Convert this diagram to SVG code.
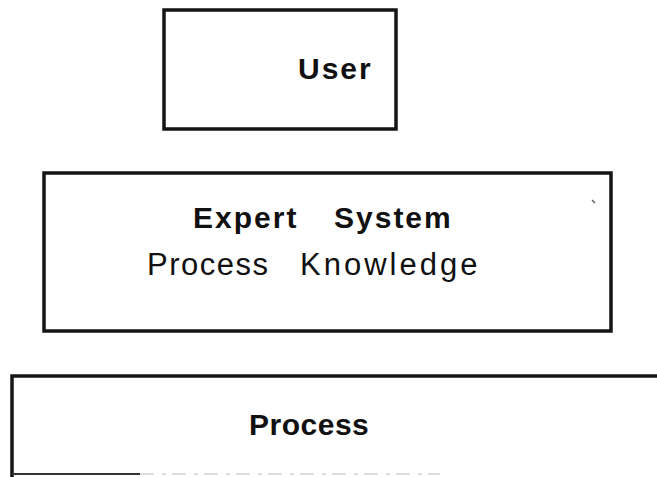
<svg xmlns="http://www.w3.org/2000/svg" width="657" height="477" viewBox="0 0 657 477">
<style>
.box{fill:#fff;stroke:#151515;stroke-width:3.5}
.t{font-family:"Liberation Sans",Arial,sans-serif;fill:#111}
.b{font-weight:bold;font-size:30px;letter-spacing:2px}
.r{font-size:31px;letter-spacing:1.5px}
</style>
<rect width="657" height="477" fill="#fff"/>
<g id="user">
<rect class="box" x="164" y="10" width="232" height="119"/>
<text class="t b" x="298" y="79">User</text>
</g>
<g id="expert">
<rect class="box" x="44" y="173" width="567" height="158"/>
<text class="t b" x="193" y="228">Expert<tspan x="334">System</tspan></text>
<text class="t r" x="147" y="275">Process<tspan x="300" style="letter-spacing:3px">Knowledge</tspan></text>
<path d="M592 200l3 3" stroke="#555" stroke-width="1.2"/>
</g>
<g id="process">
<path d="M12 477V376H657" fill="none" stroke="#151515" stroke-width="3.5"/>
<path d="M12 474H140" stroke="#333" stroke-width="2"/>
<path d="M140 474H440" stroke="#bbb" stroke-width="1.2" stroke-dasharray="14 8 4 6"/>
<text class="t b" x="249" y="435" style="letter-spacing:0.5px">Process</text>
</g>
<g id="connectors"/>
</svg>
